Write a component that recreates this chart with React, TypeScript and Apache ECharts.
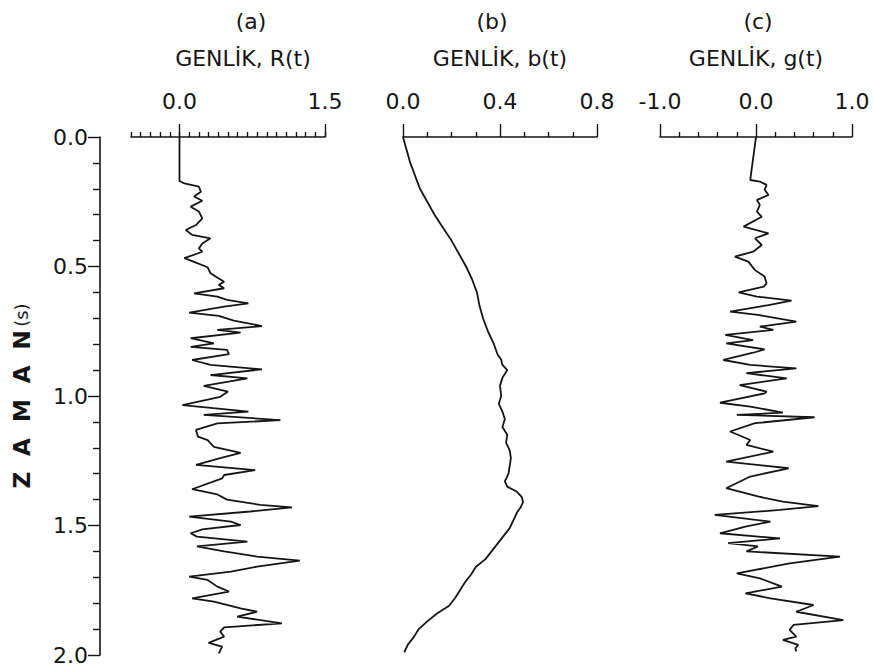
import React, { useEffect, useRef } from "react";
import * as echarts from "echarts";

// ---- data ----
const timeTicks = [0, 0.5, 1.0, 1.5, 2.0];

const aTime = [0, 0.17, 0.179, 0.192, 0.211, 0.23, 0.246, 0.269, 0.288, 0.314, 0.34, 0.359, 0.378, 0.391, 0.411, 0.43, 0.443, 0.468, 0.485, 0.503, 0.526, 0.546, 0.559, 0.571, 0.584, 0.604, 0.616, 0.629, 0.642, 0.655, 0.678, 0.691, 0.709, 0.73, 0.745, 0.755, 0.777, 0.797, 0.81, 0.822, 0.838, 0.861, 0.88, 0.897, 0.919, 0.932, 0.961, 0.983, 1.003, 1.035, 1.047, 1.06, 1.073, 1.093, 1.106, 1.131, 1.157, 1.17, 1.196, 1.22, 1.24, 1.266, 1.286, 1.305, 1.318, 1.36, 1.38, 1.4, 1.42, 1.43, 1.446, 1.466, 1.485, 1.498, 1.515, 1.53, 1.543, 1.562, 1.581, 1.6, 1.62, 1.636, 1.659, 1.678, 1.697, 1.71, 1.736, 1.755, 1.781, 1.794, 1.82, 1.833, 1.852, 1.878, 1.893, 1.91, 1.929, 1.953, 1.968, 1.994];
const aValue = [0, 0, 0.05, 0.2, 0.22, 0.15, 0.235, 0.115, 0.2, 0.235, 0.17, 0.065, 0.13, 0.32, 0.235, 0.2, 0.235, 0.05, 0.17, 0.29, 0.32, 0.405, 0.46, 0.405, 0.46, 0.15, 0.39, 0.49, 0.71, 0.46, 0.1, 0.405, 0.56, 0.85, 0.39, 0.63, 0.115, 0.355, 0.115, 0.49, 0.51, 0.13, 0.32, 0.85, 0.32, 0.7, 0.25, 0.5, 0.42, 0.03, 0.35, 0.71, 0.25, 1.04, 0.39, 0.17, 0.19, 0.29, 0.355, 0.63, 0.42, 0.17, 0.78, 0.46, 0.44, 0.13, 0.39, 0.49, 0.83, 1.16, 0.73, 0.1, 0.53, 0.63, 0.235, 0.115, 0.18, 0.7, 0.18, 0.46, 0.8, 1.24, 0.8, 0.53, 0.1, 0.29, 0.39, 0.51, 0.13, 0.355, 0.63, 0.8, 0.595, 1.055, 0.46, 0.42, 0.46, 0.3, 0.44, 0.405];

const bTime = [0, 0.05, 0.1, 0.15, 0.2, 0.25, 0.3, 0.35, 0.4, 0.45, 0.5, 0.55, 0.6, 0.65, 0.7, 0.75, 0.8, 0.84, 0.86, 0.88, 0.9, 0.93, 0.96, 1.0, 1.03, 1.06, 1.09, 1.12, 1.15, 1.18, 1.21, 1.24, 1.27, 1.3, 1.33, 1.35, 1.37, 1.39, 1.41, 1.43, 1.45, 1.48, 1.51, 1.54, 1.57, 1.6, 1.63, 1.66, 1.69, 1.72, 1.75, 1.78, 1.81, 1.84, 1.87, 1.9, 1.93, 1.96, 1.99];
const bValue = [0.0, 0.015, 0.03, 0.05, 0.07, 0.1, 0.13, 0.165, 0.2, 0.23, 0.26, 0.285, 0.305, 0.315, 0.33, 0.35, 0.375, 0.39, 0.405, 0.41, 0.43, 0.41, 0.4, 0.405, 0.395, 0.41, 0.42, 0.41, 0.43, 0.425, 0.44, 0.445, 0.44, 0.435, 0.42, 0.43, 0.47, 0.49, 0.495, 0.485, 0.47, 0.455, 0.44, 0.415, 0.39, 0.365, 0.34, 0.3, 0.28, 0.255, 0.235, 0.215, 0.19, 0.14, 0.1, 0.065, 0.045, 0.02, 0.005];

const cTime = [0, 0.166, 0.172, 0.185, 0.204, 0.224, 0.243, 0.262, 0.288, 0.308, 0.346, 0.372, 0.391, 0.417, 0.443, 0.462, 0.481, 0.514, 0.539, 0.565, 0.578, 0.6, 0.616, 0.632, 0.649, 0.674, 0.687, 0.713, 0.732, 0.745, 0.764, 0.784, 0.797, 0.82, 0.833, 0.861, 0.88, 0.893, 0.912, 0.932, 0.958, 0.983, 0.99, 1.026, 1.041, 1.064, 1.073, 1.082, 1.105, 1.137, 1.17, 1.189, 1.215, 1.253, 1.279, 1.311, 1.356, 1.388, 1.408, 1.425, 1.44, 1.459, 1.485, 1.504, 1.53, 1.55, 1.568, 1.581, 1.6, 1.62, 1.646, 1.685, 1.704, 1.736, 1.762, 1.781, 1.807, 1.833, 1.865, 1.884, 1.903, 1.929, 1.942, 1.961, 1.974, 1.986];
const cValue = [0, -0.06, 0.04, 0.11, 0.09, 0.13, 0.01, 0.04, 0.01, 0.06, -0.13, 0.13, -0.01, 0.06, -0.03, -0.22, -0.08, -0.01, 0.09, 0.11, 0.08, -0.18, 0.01, 0.37, 0.13, -0.27, 0.02, 0.42, 0.04, 0.18, -0.32, -0.03, -0.31, 0.09, -0.03, -0.34, -0.06, 0.42, -0.1, 0.32, -0.17, 0.11, 0.09, -0.375, -0.06, 0.28, -0.2, 0.61, -0.01, -0.27, -0.06, -0.1, 0.18, -0.31, 0.34, -0.06, -0.31, 0.02, 0.28, 0.65, 0.25, -0.43, 0.15, -0.11, -0.375, 0.25, -0.29, 0.02, -0.1, 0.875, 0.35, -0.2, 0.04, 0.27, -0.11, 0.15, 0.6, 0.42, 0.91, 0.39, 0.35, 0.42, 0.28, 0.44, 0.41, 0.42];

const aMajorTicks = [0, 1.5];
const panelLetters = ["(a)", "(b)", "(c)"];
const panelTitles = ["GENLİK, R(t)", "GENLİK, b(t)", "GENLİK, g(t)"];
const yAxisTitle = "Z  A  M  A  N";
const yAxisUnit = "(s)";

const FONT = "DejaVu Sans";
const INK = "#151515";

const pairs = (xs: number[], ts: number[]) => ts.map((t, i) => [xs[i], t]);
const fmt1 = (v: number) => (Math.abs(v) < 1e-9 ? 0 : v).toFixed(1);

export default function App() {
  const ref = useRef<HTMLDivElement>(null);
  useEffect(() => {
    if (!ref.current) return;
    const chart = echarts.init(ref.current, undefined, { renderer: "svg" });
    const axisLine = { onZero: false, lineStyle: { color: INK, width: 1.6 } };
    const labelStyle = { fontFamily: FONT, fontSize: 22, color: INK };
    const tickStyle = { color: INK, width: 1.4 };
    const hiddenY = (gridIndex: number) => ({
      gridIndex, type: "value", min: 0, max: 2, inverse: true, show: false,
      axisLine: { onZero: false }, splitLine: { show: false },
    });
    const option: any = {
      animation: false,
      backgroundColor: "#ffffff",
      grid: [
        { left: 131, top: 137, width: 194, height: 518 },
        { left: 403, top: 137, width: 194, height: 518 },
        { left: 660, top: 137, width: 192, height: 518 },
      ],
      xAxis: [
        {
          gridIndex: 0, type: "value", position: "top", min: -0.5, max: 1.5, interval: 0.1,
          axisLine, axisTick: { length: 5, lineStyle: tickStyle },
          axisLabel: { show: false }, splitLine: { show: false },
        },
        {
          gridIndex: 0, type: "value", position: "top", min: -0.5, max: 1.5, interval: 0.1,
          axisLine: { show: false, onZero: false },
          axisTick: { customValues: aMajorTicks, length: 13, lineStyle: tickStyle },
          axisLabel: { customValues: aMajorTicks, formatter: fmt1, margin: 25, ...labelStyle },
          splitLine: { show: false },
        },
        {
          gridIndex: 1, type: "value", position: "top", min: 0, max: 0.8, interval: 0.4,
          axisLine, axisTick: { length: 13, lineStyle: tickStyle },
          minorTick: { show: true, splitNumber: 4, length: 5, lineStyle: tickStyle },
          axisLabel: { formatter: fmt1, margin: 25, ...labelStyle },
          splitLine: { show: false },
        },
        {
          gridIndex: 2, type: "value", position: "top", min: -1, max: 1, interval: 1,
          axisLine, axisTick: { length: 13, lineStyle: tickStyle },
          minorTick: { show: true, splitNumber: 5, length: 5, lineStyle: tickStyle },
          axisLabel: { formatter: fmt1, margin: 25, ...labelStyle },
          splitLine: { show: false },
        },
      ],
      yAxis: [
        {
          gridIndex: 0, type: "value", position: "left", offset: 31,
          min: timeTicks[0], max: timeTicks[timeTicks.length - 1], interval: 0.5, inverse: true,
          axisLine, axisTick: { length: 12, lineStyle: tickStyle },
          minorTick: { show: true, splitNumber: 5, length: 7, lineStyle: tickStyle },
          axisLabel: { formatter: fmt1, margin: 12, ...labelStyle },
          splitLine: { show: false },
          name: `{b|${yAxisTitle}} {s|${yAxisUnit}}`,
          nameLocation: "middle", nameGap: 67, nameRotate: 90,
          nameTextStyle: {
            rich: {
              b: { fontFamily: FONT, fontSize: 23, fontWeight: "bold", color: INK },
              s: { fontFamily: FONT, fontSize: 18, color: INK },
            },
          },
        },
        hiddenY(1),
        hiddenY(2),
      ],
      graphic: [
        ...panelLetters.map((t, i) => ({
          type: "text", x: [251, 492, 758][i], y: 21,
          style: { text: t, fontFamily: FONT, fontSize: 22, fill: INK, align: "center", verticalAlign: "middle" },
        })),
        ...panelTitles.map((t, i) => ({
          type: "text", x: [243, 500, 756][i], y: 58,
          style: { text: t, fontFamily: FONT, fontSize: 22, fill: INK, align: "center", verticalAlign: "middle" },
        })),
      ],
      series: [
        {
          type: "line", xAxisIndex: 0, yAxisIndex: 0, data: pairs(aValue, aTime),
          showSymbol: false, silent: true, lineStyle: { color: INK, width: 1.8 },
        },
        {
          type: "line", xAxisIndex: 2, yAxisIndex: 1, data: pairs(bValue, bTime),
          showSymbol: false, silent: true, lineStyle: { color: INK, width: 1.8 },
        },
        {
          type: "line", xAxisIndex: 3, yAxisIndex: 2, data: pairs(cValue, cTime),
          showSymbol: false, silent: true, lineStyle: { color: INK, width: 1.8 },
        },
      ],
    };
    chart.setOption(option);
    return () => chart.dispose();
  }, []);
  return (
    <div
      ref={ref}
      style={{ position: "absolute", left: 0, top: 0, width: 874, height: 671, background: "#fff" }}
    />
  );
}
